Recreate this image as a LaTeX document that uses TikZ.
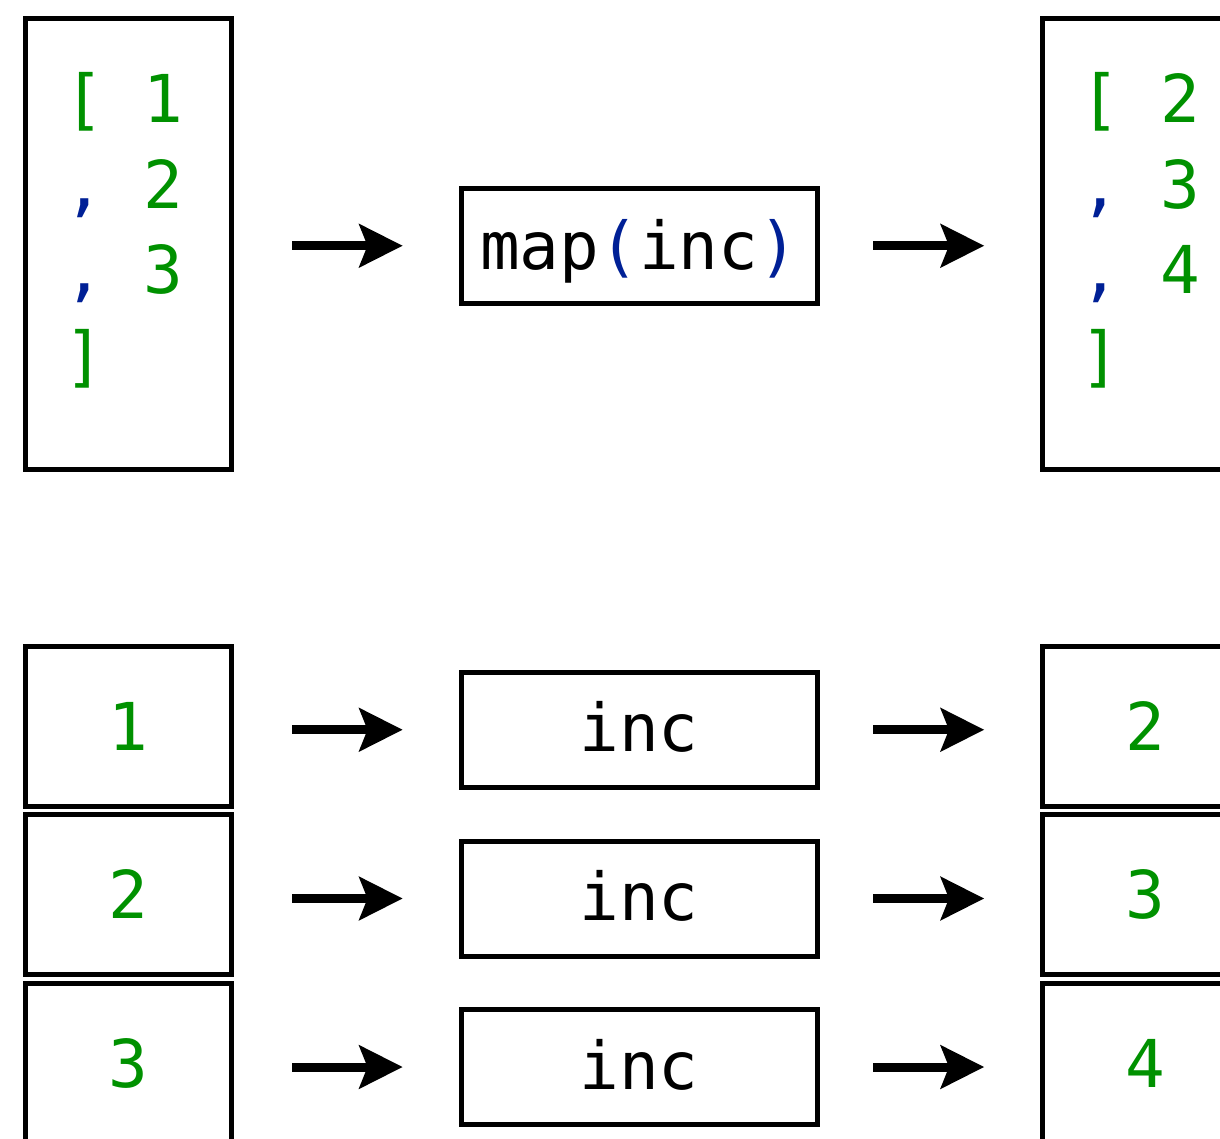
\documentclass[tikz,border=0pt]{standalone}
\usepackage{fontspec}
\setmonofont{DejaVu Sans Mono}
\usetikzlibrary{arrows.meta}
\definecolor{litgreen}{RGB}{0,145,0}
\definecolor{punctblue}{RGB}{0,32,150}
\begin{document}
\begin{tikzpicture}[x=0.5pt,y=-0.5pt,
  code/.style={font=\ttfamily\fontsize{33}{42.75}\selectfont},
  box/.style={draw=black, line width=2.5pt, rectangle, inner sep=0pt, outer sep=0pt, code},
  listbox/.style={box, minimum width=103pt, minimum height=225pt},
  cell/.style={box, minimum width=103pt, minimum height=80pt, text=litgreen},
  fnbox/.style={box, minimum width=178pt, minimum height=57.5pt, text height=22pt, text depth=0pt},
  listtext/.style={code, anchor=north west, inner sep=0pt, align=left, text=litgreen},
  flow/.style={line width=4.5pt,
    -{Stealth[length=22pt,width=22.3pt,inset=4.5pt,line width=0pt]},
    shorten >=29.25pt},
  flowin/.style={flow, shorten <=30.4pt},
  flowout/.style={flow, shorten <=28.2pt},
]
\useasboundingbox (0,0) rectangle (1220,1139);
\clip (0,0) rectangle (1220,1139);

% whole-list version
\node[listbox] (inL) at (128.5,244) {};
\node[listtext] (inLtxt) at (64,72)
  {[\ 1\\\textcolor{punctblue}{,}\ 2\\\textcolor{punctblue}{,}\ 3\\]};
\node[fnbox, text height=24.25pt] (map) at (639,245.75)
  {map\textcolor{punctblue}{(}inc\textcolor{punctblue}{)}};
\node[listbox] (outL) at (1145.5,244) {};
\node[listtext] (outLtxt) at (1080.5,72)
  {[\ 2\\\textcolor{punctblue}{,}\ 3\\\textcolor{punctblue}{,}\ 4\\]};

\draw[flowin] (inL.east |- map.west) -- (map.west);
\draw[flowout] (map.east) -- (map.east -| outL.west);

% element-wise version
\node[cell] (a1) at (128.5,726) {1};
\node[cell] (a2) at (128.5,894) {2};
\node[cell] (a3) at (128.5,1063.5) {3};

\node[fnbox] (f1) at (639,729.75) {inc};
\node[fnbox] (f2) at (639,898.5) {inc};
\node[fnbox] (f3) at (639,1067) {inc};

\node[cell] (b1) at (1145.5,726) {2};
\node[cell] (b2) at (1145.5,894) {3};
\node[cell] (b3) at (1145.5,1063.5) {4};

\foreach \i in {1,2,3}{
  \draw[flowin] (a\i.east |- f\i.west) -- (f\i.west);
  \draw[flowout] (f\i.east) -- (f\i.east -| b\i.west);
}
\end{tikzpicture}
\end{document}
